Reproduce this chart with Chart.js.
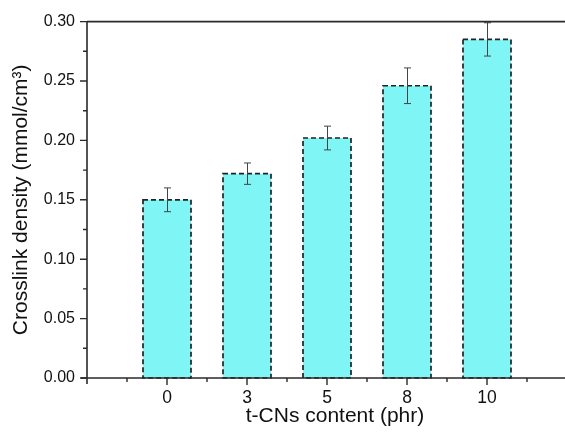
<!DOCTYPE html>
<html><head><meta charset="utf-8">
<script src="https://cdn.jsdelivr.net/npm/chart.js@4/dist/chart.umd.min.js"></script>
<style>html,body{margin:0;padding:0;background:#fff;overflow:hidden;width:565px;height:432px}</style>
</head><body>
<canvas id="c" width="585" height="432"></canvas>
<script>
const categories = ['0', '3', '5', '8', '10'];
const density = [0.150, 0.172, 0.202, 0.246, 0.285];
const errors = [0.010, 0.009, 0.010, 0.015, 0.014];
const yTicks = [0, 0.05, 0.10, 0.15, 0.20, 0.25, 0.30];
const yMinorTicks = [0.025, 0.075, 0.125, 0.175, 0.225, 0.275];
const xMinorTicks = [-0.5, 0.5, 1.5, 2.5, 3.5, 4.5];

const FONT = "'Liberation Sans', Arial, sans-serif";
const AXIS = '#2a2a2a';

const decor = {
  id: 'decor',
  afterDatasetsDraw(chart) {
    const ctx = chart.ctx, xs = chart.scales.x, ys = chart.scales.y, a = chart.chartArea;
    const meta = chart.getDatasetMeta(0);
    ctx.save();
    ctx.strokeStyle = '#222';
    ctx.lineWidth = 1.7;
    ctx.setLineDash([5, 3]);
    meta.data.forEach(bar => {
      const p = bar.getProps(['x', 'y', 'base', 'width'], true);
      ctx.strokeRect(p.x - p.width / 2, p.y, p.width, p.base - p.y);
    });
    ctx.setLineDash([]);
    ctx.strokeStyle = '#444';
    ctx.lineWidth = 1;
    density.forEach((v, i) => {
      const x = Math.round(xs.getPixelForValue(i)) + 0.5;
      const yt = ys.getPixelForValue(v + errors[i]);
      const yb = ys.getPixelForValue(v - errors[i]);
      ctx.beginPath();
      ctx.moveTo(x, yt); ctx.lineTo(x, yb);
      ctx.moveTo(x - 3.5, yt); ctx.lineTo(x + 3.5, yt);
      ctx.moveTo(x - 3.5, yb); ctx.lineTo(x + 3.5, yb);
      ctx.stroke();
    });
    ctx.strokeStyle = AXIS;
    ctx.lineWidth = 1.6;
    ctx.beginPath();
    ctx.moveTo(a.left, a.top); ctx.lineTo(a.left, a.bottom + 6);
    ctx.moveTo(a.left - 6, a.bottom); ctx.lineTo(a.right, a.bottom);
    ctx.moveTo(a.left, a.top); ctx.lineTo(a.right, a.top);
    ctx.stroke();
    ctx.lineWidth = 1.4;
    ctx.beginPath();
    yTicks.forEach(v => { const y = ys.getPixelForValue(v); ctx.moveTo(a.left - 7, y); ctx.lineTo(a.left, y); });
    yMinorTicks.forEach(v => { const y = ys.getPixelForValue(v); ctx.moveTo(a.left - 4, y); ctx.lineTo(a.left, y); });
    categories.forEach((c, i) => { const x = xs.getPixelForValue(i); ctx.moveTo(x, a.bottom); ctx.lineTo(x, a.bottom + 7); });
    xMinorTicks.forEach(v => { const x = xs.getPixelForValue(v); ctx.moveTo(x, a.bottom); ctx.lineTo(x, a.bottom + 4); });
    ctx.stroke();
    ctx.restore();
  }
};

new Chart(document.getElementById('c'), {
  type: 'bar',
  data: {
    datasets: [{
      data: density.map((v, i) => ({ x: i, y: v })),
      backgroundColor: '#80F5F5',
      borderWidth: 0,
      barPercentage: 0.6,
      categoryPercentage: 1.0
    }]
  },
  options: {
    responsive: false,
    animation: false,
    devicePixelRatio: 1,
    layout: { padding: { top: 21, right: 2, left: 0, bottom: 0 } },
    plugins: { legend: { display: false }, tooltip: { enabled: false } },
    scales: {
      x: {
        type: 'linear',
        offset: false,
        min: -1,
        max: 5.2,
        grid: { display: false, drawTicks: false },
        border: { display: false },
        afterBuildTicks: s => { s.ticks = categories.map((c, i) => ({ value: i })); },
        afterFit: s => { s.height = 54; },
        ticks: {
          callback: (v) => categories[v],
          font: { family: FONT, size: 17.5 },
          color: '#111',
          padding: 10,
          maxRotation: 0,
          autoSkip: false
        },
        title: {
          display: true,
          text: 't-CNs content (phr)',
          font: { family: FONT, size: 21 },
          color: '#111',
          padding: { top: 0, bottom: 3 }
        }
      },
      y: {
        min: 0,
        max: 0.3,
        grid: { display: false, drawTicks: false },
        border: { display: false },
        afterBuildTicks: s => { s.ticks = yTicks.map(v => ({ value: v })); },
        afterFit: s => { s.width = 87; },
        ticks: {
          callback: (v) => v.toFixed(2),
          font: { family: FONT, size: 16 },
          color: '#111',
          padding: 12
        },
        title: {
          display: true,
          text: 'Crosslink density (mmol/cm³)',
          font: { family: FONT, size: 21 },
          color: '#111',
          padding: { top: 9, bottom: 0 }
        }
      }
    }
  },
  plugins: [decor]
});
</script>
</body></html>
